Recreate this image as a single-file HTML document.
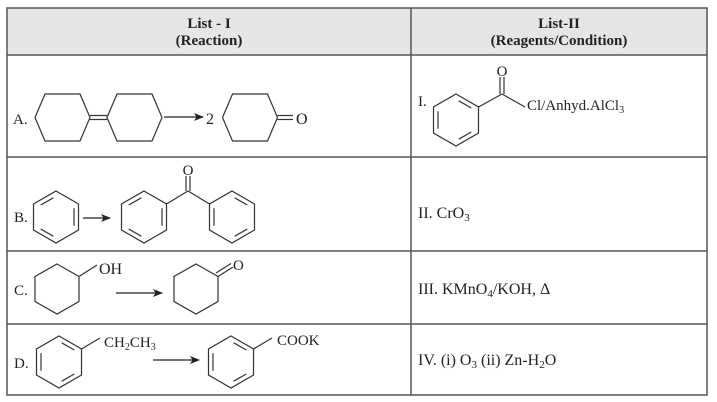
<!DOCTYPE html>
<html><head><meta charset="utf-8"><style>
html,body{margin:0;padding:0;background:#fff;}
svg{display:block;}
text{font-family:"Liberation Serif",serif;fill:#222;}
</style></head><body>
<svg width="717" height="402" viewBox="0 0 717 402" xmlns="http://www.w3.org/2000/svg">
<defs>
<marker id="ah" markerWidth="10" markerHeight="8" refX="9" refY="4" orient="auto" markerUnits="userSpaceOnUse">
<path d="M0,0 L10,4 L0,8 L2.5,4 z" fill="#222"/>
</marker>
<g id="bz" fill="none" stroke="#333" stroke-width="1.2">
<polygon points="0,-26 22.5,-13 22.5,13 0,26 -22.5,13 -22.5,-13"/>
<line x1="18" y1="-8.8" x2="18" y2="8.8"/>
<line x1="-15.3" y1="-12" x2="-2.7" y2="-19.2"/>
<line x1="-15.3" y1="12" x2="-2.7" y2="19.2"/>
</g>
<g id="bz2" fill="none" stroke="#333" stroke-width="1.2">
<polygon points="0,-26 22.5,-13 22.5,13 0,26 -22.5,13 -22.5,-13"/>
<line x1="-18" y1="-8.8" x2="-18" y2="8.8"/>
<line x1="15.3" y1="-12" x2="2.7" y2="-19.2"/>
<line x1="15.3" y1="12" x2="2.7" y2="19.2"/>
</g>
<g id="cy" fill="none" stroke="#333" stroke-width="1.2">
<polygon points="0,-25 22,-12.5 22,12.5 0,25 -22,12.5 -22,-12.5"/>
</g>
<g id="hx" fill="none" stroke="#333" stroke-width="1.2">
<polygon points="-27.5,0 -17.5,-23.5 17.5,-23.5 27.5,0 17.5,23.5 -17.5,23.5"/>
</g>
</defs>

<!-- table -->
<rect x="7" y="8" width="700" height="47" fill="#e6e6e6"/>
<g stroke="#555" stroke-width="1.5" fill="none">
<rect x="7" y="8" width="700" height="387"/>
<line x1="411" y1="8" x2="411" y2="395"/>
<line x1="7" y1="55" x2="707" y2="55"/>
<line x1="7" y1="157" x2="707" y2="157"/>
<line x1="7" y1="251" x2="707" y2="251"/>
<line x1="7" y1="324" x2="707" y2="324"/>
</g>

<text x="209" y="28" font-size="15" font-weight="bold" text-anchor="middle">List - I</text>
<text x="209" y="45" font-size="15" font-weight="bold" text-anchor="middle">(Reaction)</text>
<text x="559" y="28" font-size="15" font-weight="bold" text-anchor="middle">List-II</text>
<text x="559" y="45" font-size="15" font-weight="bold" text-anchor="middle">(Reagents/Condition)</text>

<!-- Row A -->
<text x="13" y="124" font-size="15">A.</text>
<use href="#hx" x="62.5" y="117.5"/>
<use href="#hx" x="134.5" y="117.5"/>
<line x1="90" y1="115.5" x2="107" y2="115.5" stroke="#333" stroke-width="1.2"/>
<line x1="90" y1="119.5" x2="107" y2="119.5" stroke="#333" stroke-width="1.2"/>
<line x1="164" y1="117" x2="203" y2="117" stroke="#222" stroke-width="1.2" marker-end="url(#ah)"/>
<text x="206" y="124" font-size="16">2</text>
<use href="#hx" x="250" y="117.5"/>
<line x1="277.5" y1="115.5" x2="293" y2="115.5" stroke="#333" stroke-width="1.2"/>
<line x1="277.5" y1="119.5" x2="293" y2="119.5" stroke="#333" stroke-width="1.2"/>
<text x="296" y="124" font-size="16">O</text>

<!-- Row B -->
<text x="14" y="222" font-size="15">B.</text>
<use href="#bz" x="56" y="217"/>
<line x1="83" y1="218" x2="110" y2="218" stroke="#222" stroke-width="1.2" marker-end="url(#ah)"/>
<use href="#bz" x="144" y="217"/>
<use href="#bz2" x="232" y="217"/>
<g stroke="#333" stroke-width="1.2">
<line x1="166.5" y1="204" x2="188" y2="191"/>
<line x1="188" y1="191" x2="209.5" y2="204"/>
<line x1="186" y1="191" x2="186" y2="176"/>
<line x1="190" y1="191" x2="190" y2="176"/>
</g>
<text x="188" y="175" font-size="15" text-anchor="middle">O</text>

<!-- Row C -->
<text x="14" y="295" font-size="15">C.</text>
<use href="#cy" x="57" y="289"/>
<line x1="79" y1="276.5" x2="97" y2="265" stroke="#333" stroke-width="1.2"/>
<text x="99" y="274" font-size="16">OH</text>
<line x1="116" y1="293" x2="162" y2="293" stroke="#222" stroke-width="1.2" marker-end="url(#ah)"/>
<use href="#cy" x="196" y="289"/>
<line x1="218" y1="276.5" x2="233" y2="267" stroke="#333" stroke-width="1.2"/>
<line x1="216" y1="273" x2="231" y2="263.5" stroke="#333" stroke-width="1.2"/>
<text x="233" y="270" font-size="15">O</text>

<!-- Row D -->
<text x="14" y="368" font-size="15">D.</text>
<use href="#bz2" x="59" y="362"/>
<line x1="81.5" y1="349" x2="100" y2="338" stroke="#333" stroke-width="1.2"/>
<text x="104" y="347" font-size="15">CH<tspan font-size="10" dy="3">2</tspan><tspan dy="-3">CH</tspan><tspan font-size="10" dy="3">3</tspan></text>
<line x1="153" y1="360" x2="199" y2="360" stroke="#222" stroke-width="1.2" marker-end="url(#ah)"/>
<use href="#bz2" x="231" y="362"/>
<line x1="253.5" y1="349" x2="272" y2="338" stroke="#333" stroke-width="1.2"/>
<text x="277" y="345" font-size="15">COOK</text>

<!-- Right column -->
<text x="418" y="106" font-size="15">I.</text>
<use href="#bz2" x="456" y="120"/>
<g stroke="#333" stroke-width="1.2">
<line x1="478.5" y1="107" x2="502" y2="94"/>
<line x1="502" y1="94" x2="525" y2="107"/>
<line x1="500" y1="94" x2="500" y2="77"/>
<line x1="504" y1="94" x2="504" y2="77"/>
</g>
<text x="502" y="76" font-size="15" text-anchor="middle">O</text>
<text x="527" y="110" font-size="15">Cl/Anhyd.AlCl<tspan font-size="10" dy="3">3</tspan></text>

<text x="418" y="218" font-size="16">II. CrO<tspan font-size="11" dy="3">3</tspan></text>
<text x="418" y="294" font-size="16">III. KMnO<tspan font-size="11" dy="3">4</tspan><tspan dy="-3">/KOH, Δ</tspan></text>
<text x="418" y="365" font-size="16">IV. (i) O<tspan font-size="11" dy="3">3</tspan><tspan dy="-3"> (ii) Zn-H</tspan><tspan font-size="11" dy="3">2</tspan><tspan dy="-3">O</tspan></text>
</svg>
</body></html>
